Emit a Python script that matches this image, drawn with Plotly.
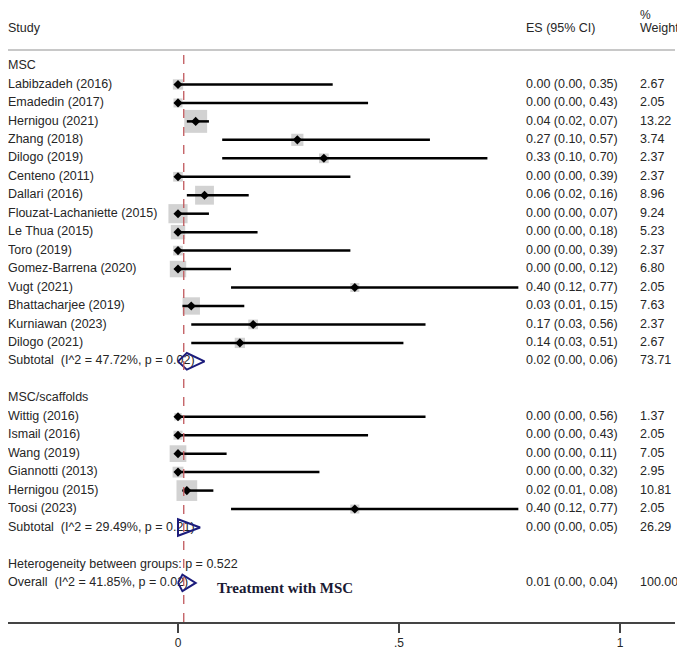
import numpy as np
import plotly.graph_objects as go

# ---- data ----
msc_studies = [
    "Labibzadeh (2016)", "Emadedin (2017)", "Hernigou (2021)", "Zhang (2018)",
    "Dilogo (2019)", "Centeno (2011)", "Dallari (2016)",
    "Flouzat-Lachaniette (2015)", "Le Thua (2015)", "Toro (2019)",
    "Gomez-Barrena (2020)", "Vugt (2021)", "Bhattacharjee (2019)",
    "Kurniawan (2023)", "Dilogo (2021)",
]
msc_es = [0.00, 0.00, 0.04, 0.27, 0.33, 0.00, 0.06, 0.00, 0.00, 0.00, 0.00, 0.40, 0.03, 0.17, 0.14]
msc_lo = [0.00, 0.00, 0.02, 0.10, 0.10, 0.00, 0.02, 0.00, 0.00, 0.00, 0.00, 0.12, 0.01, 0.03, 0.03]
msc_hi = [0.35, 0.43, 0.07, 0.57, 0.70, 0.39, 0.16, 0.07, 0.18, 0.39, 0.12, 0.77, 0.15, 0.56, 0.51]
msc_w = [2.67, 2.05, 13.22, 3.74, 2.37, 2.37, 8.96, 9.24, 5.23, 2.37, 6.80, 2.05, 7.63, 2.37, 2.67]
msc_sub = dict(es=0.02, lo=0.00, hi=0.06, w=73.71, i2="47.72%", p="0.02")

scaf_studies = [
    "Wittig (2016)", "Ismail (2016)", "Wang (2019)", "Giannotti (2013)",
    "Hernigou (2015)", "Toosi (2023)",
]
scaf_es = [0.00, 0.00, 0.00, 0.00, 0.02, 0.40]
scaf_lo = [0.00, 0.00, 0.00, 0.00, 0.01, 0.12]
scaf_hi = [0.56, 0.43, 0.11, 0.32, 0.08, 0.77]
scaf_w = [1.37, 2.05, 7.05, 2.95, 10.81, 2.05]
scaf_sub = dict(es=0.00, lo=0.00, hi=0.05, w=26.29, i2="29.49%", p="0.21")

overall = dict(es=0.01, lo=0.00, hi=0.04, w=100.00, i2="41.85%", p="0.02")
overall_pooled = 0.013  # where the dashed reference line sits
het_between_p = "0.522"

tick_vals = [0, 0.5, 1]
tick_text = ["0", ".5", "1"]

# ---- build rows (row index = vertical position, top to bottom) ----
labels, es_txt, w_txt, rows = [], [], [], []
st_x, st_lo, st_hi, st_w, st_row = [], [], [], [], []
diamonds = []


def add_group(name, studies, es, lo, hi, w, sub, start):
    r = start
    labels.append(name); es_txt.append(""); w_txt.append(""); rows.append(r)
    r += 1
    for s, e, l, h, wt in zip(studies, es, lo, hi, w):
        labels.append(s)
        es_txt.append(f"{e:.2f} ({l:.2f}, {h:.2f})")
        w_txt.append(f"{wt:.2f}")
        rows.append(r)
        st_x.append(e); st_lo.append(l); st_hi.append(h); st_w.append(wt); st_row.append(r)
        r += 1
    labels.append(f"Subtotal  (I^2 = {sub['i2']}, p = {sub['p']})")
    es_txt.append(f"{sub['es']:.2f} ({sub['lo']:.2f}, {sub['hi']:.2f})")
    w_txt.append(f"{sub['w']:.2f}")
    rows.append(r)
    diamonds.append((sub, r))
    return r + 2


nxt = add_group("MSC", msc_studies, msc_es, msc_lo, msc_hi, msc_w, msc_sub, 0)
nxt = add_group("MSC/scaffolds", scaf_studies, scaf_es, scaf_lo, scaf_hi, scaf_w, scaf_sub, nxt)
labels.append(f"Heterogeneity between groups: p = {het_between_p}")
es_txt.append(""); w_txt.append(""); rows.append(nxt)
labels.append(f"Overall  (I^2 = {overall['i2']}, p = {overall['p']})")
es_txt.append(f"{overall['es']:.2f} ({overall['lo']:.2f}, {overall['hi']:.2f})")
w_txt.append(f"{overall['w']:.2f}")
rows.append(nxt + 1)
diamonds.append((overall, nxt + 1))
overall_row = nxt + 1

# page geometry (the html body adds an 8px margin)
BODY = 8
PX_PER_UNIT = 442.0
ROW_PX = 18.46
X0_PX, Y0_PX = 178, 66          # screen px of x=0 and of row 0


def sx(px):
    return (px - X0_PX) / PX_PER_UNIT


x_left, x_right = sx(BODY), sx(675)
y_top, y_bot = (BODY - Y0_PX) / ROW_PX, (622 - Y0_PX) / ROW_PX

FONT = "Liberation Sans, Arial, sans-serif"
TXT = "#262626"
FS = 12.5

fig = go.Figure()

# grey weight boxes
fig.add_trace(go.Scatter(
    x=st_x, y=st_row, mode="markers",
    marker=dict(symbol="square", size=[6.3 * np.sqrt(v) for v in st_w],
                color="#bfbfbf", line=dict(width=0)),
    hoverinfo="skip", showlegend=False,
))

# confidence interval lines
ci_x, ci_y = [], []
for l, h, r in zip(st_lo, st_hi, st_row):
    ci_x += [l, h, None]
    ci_y += [r, r, None]
fig.add_trace(go.Scatter(
    x=ci_x, y=ci_y, mode="lines", line=dict(color="black", width=2.5),
    hoverinfo="skip", showlegend=False,
))

# point estimates
fig.add_trace(go.Scatter(
    x=st_x, y=st_row, mode="markers",
    marker=dict(symbol="diamond", size=7, color="black"),
    hoverinfo="skip", showlegend=False,
))


# text columns
def text_col(x, y, t, size=FS):
    fig.add_trace(go.Scatter(
        x=[x] * len(y), y=y, text=t, mode="text", textposition="middle right",
        textfont=dict(family=FONT, size=size, color=TXT),
        cliponaxis=False, hoverinfo="skip", showlegend=False,
    ))


text_col(sx(BODY), rows, labels)
text_col(sx(526), rows, es_txt)
text_col(sx(640), rows, w_txt)
text_col(sx(BODY), [-2], ["Study"])
text_col(sx(526), [-2], ["ES (95% CI)"])
text_col(sx(640), [-2], ["Weight"])
text_col(sx(640), [-2.7], ["%"], size=12)

# pooled diamonds (drawn over the label text)
for d, r in diamonds:
    fig.add_trace(go.Scatter(
        x=[d["lo"], d["es"], d["hi"], d["es"], d["lo"]],
        y=[r, r - 0.45, r, r + 0.45, r],
        mode="lines", line=dict(color="#1c1c7c", width=2),
        hoverinfo="skip", showlegend=False,
    ))

fig.add_trace(go.Scatter(
    x=[sx(217)], y=[overall_row + 0.35],
    text=["<b>Treatment with MSC</b>"], mode="text", textposition="middle right",
    textfont=dict(family="Liberation Serif, Times New Roman, serif", size=15, color="#1a1a33"),
    cliponaxis=False, hoverinfo="skip", showlegend=False,
))

# header rule and dashed overall line
fig.add_shape(type="line", x0=x_left, x1=x_right, y0=-0.87, y1=-0.87,
              line=dict(color="#c8c8c8", width=2))
fig.add_shape(type="line", x0=overall_pooled, x1=overall_pooled, y0=-0.6, y1=y_bot,
              line=dict(color="#c0585c", width=1.3, dash="dash"))

fig.update_xaxes(
    range=[x_left, x_right], showgrid=False, zeroline=False,
    showline=True, linecolor="#444444", linewidth=1.5,
    ticks="outside", ticklen=9, tickwidth=1.5, tickcolor="#444444",
    tickvals=tick_vals, ticktext=tick_text,
    tickfont=dict(family=FONT, size=12, color=TXT),
)
fig.update_yaxes(range=[y_bot, y_top], visible=False, showgrid=False, zeroline=False)

fig.update_layout(
    width=685 - BODY, height=652 - BODY,
    margin=dict(l=0, r=10, t=0, b=30),
    plot_bgcolor="white", paper_bgcolor="white",
    showlegend=False,
)

fig.write_html("out.html")
